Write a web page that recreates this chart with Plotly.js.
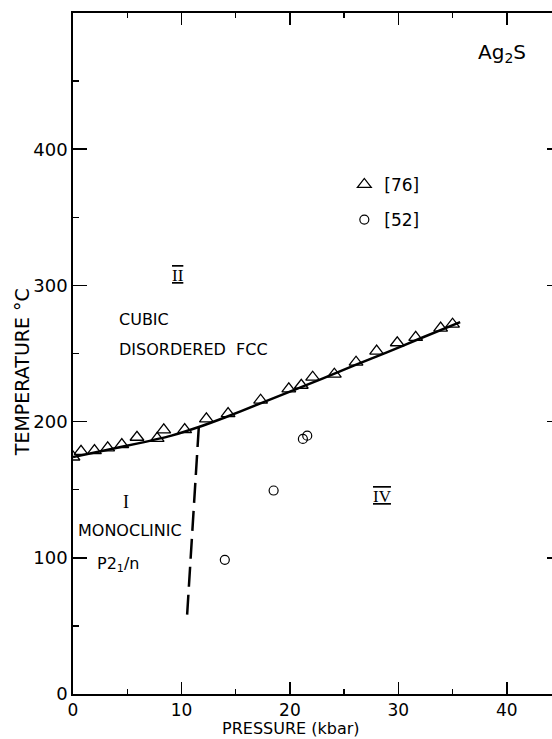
<!DOCTYPE html>
<html>
<head>
<meta charset="utf-8">
<script src="https://cdn.plot.ly/plotly-3.0.1.min.js"></script>
<style>
html, body { margin: 0; padding: 0; overflow: hidden; background: #fff; width: 552px; height: 739px; }
#chart { width: 580px; height: 739px; }
</style>
</head>
<body>
<div id="chart"></div>
<script>
// Ag2S phase diagram: pressure (kbar) vs temperature (°C)
const tri76P = [0, 0.74, 1.98, 3.2, 4.5, 5.9, 7.76, 8.37, 10.3, 12.3, 14.3, 17.3, 19.9, 21.05, 22.1, 24.1, 26.1, 28.0, 29.9, 31.6, 33.9, 35.0];
const tri76T = [174, 178.2, 178.7, 180.7, 183.1, 188.5, 187.7, 193.9, 194.1, 202, 205.9, 215.7, 224, 226.7, 232.6, 234.8, 243.6, 251.7, 257.9, 261.8, 268.6, 271.5];

const circ52P = [14.0, 18.5, 21.2, 21.6];
const circ52T = [98.5, 149.4, 187.3, 189.7];

const boundaryP = [0, 3, 6, 9, 11.6, 14, 17, 20, 23, 26, 29, 32, 35.7];
const boundaryT = [174, 179, 184, 189.5, 196, 203, 212.5, 222, 231.5, 241.5, 251, 261, 273];

const dashP = [11.6, 10.5];
const dashT = [196, 55];

const xTicks = [0, 10, 20, 30, 40];
const yTicks = [0, 100, 200, 300, 400];
const legendNames = ['[76]', '[52]'];

const FONT = 'DejaVu Sans, Liberation Sans, Arial, sans-serif';
const SERIF = 'Liberation Serif, DejaVu Serif, serif';

const traces = [
  { x: boundaryP, y: boundaryT, mode: 'lines', type: 'scatter', showlegend: false,
    line: { color: '#000', width: 2.5, shape: 'spline', smoothing: 0.5 }, hoverinfo: 'skip' },
  { x: dashP, y: dashT, mode: 'lines', type: 'scatter', showlegend: false,
    line: { color: '#000', width: 2.5, dash: '20px,8px' }, hoverinfo: 'skip' },
  { x: tri76P, y: tri76T, mode: 'markers', type: 'scatter', name: legendNames[0], legendgroup: 'a',
    marker: { symbol: 'triangle-up-open', size: 12, color: '#000', line: { width: 1.3, color: '#000' } } },
  { x: circ52P, y: circ52T, mode: 'markers', type: 'scatter', name: legendNames[1], legendgroup: 'b',
    marker: { symbol: 'circle-open', size: 9, color: '#000', line: { width: 1.2, color: '#000' } } }
];

const txt = (x, y, text, extra) => Object.assign({
  x: x, y: y, xref: 'x', yref: 'y', text: text, showarrow: false,
  font: { family: FONT, size: 16, color: '#000' }
}, extra || {});

const roman = (x, y, text) => txt(x, y,
  '<span style="text-decoration:underline overline">' + text + '</span>',
  { font: { family: SERIF, size: 17, color: '#000' } });

const layout = {
  width: 580, height: 739,
  margin: { l: 73, r: 19, t: 13, b: 45 },
  paper_bgcolor: '#fff', plot_bgcolor: '#fff',
  showlegend: true,
  legend: { x: 0.556, y: 0.774, xanchor: 'left', yanchor: 'top', tracegroupgap: 10,
    font: { family: FONT, size: 17, color: '#000' }, bgcolor: 'rgba(0,0,0,0)' },
  xaxis: {
    range: [0, 45], tickvals: xTicks, ticktext: xTicks.map(String),
    ticks: 'inside', ticklen: 12, tickwidth: 1.5, tickcolor: '#000',
    minor: { dtick: 5, ticks: 'inside', ticklen: 5, tickwidth: 1.3, tickcolor: '#000' },
    showline: true, linecolor: '#000', linewidth: 1.8, mirror: 'allticks',
    showgrid: false, zeroline: false,
    tickfont: { family: FONT, size: 17, color: '#000' }
  },
  yaxis: {
    range: [0, 500], tickvals: yTicks, ticktext: yTicks.map(String),
    ticks: 'inside', ticklen: 14, tickwidth: 1.5, tickcolor: '#000',
    minor: { dtick: 50, ticks: 'inside', ticklen: 6, tickwidth: 1.3, tickcolor: '#000' },
    showline: true, linecolor: '#000', linewidth: 1.8, mirror: 'allticks',
    showgrid: false, zeroline: false,
    tickfont: { family: FONT, size: 18, color: '#000' }
  },
  annotations: [
    { xref: 'paper', yref: 'paper', x: 0.446, y: -0.0505, text: 'PRESSURE (kbar)', showarrow: false,
      xanchor: 'center', yanchor: 'middle', font: { family: FONT, size: 16, color: '#000' } },
    { xref: 'paper', yref: 'paper', x: -0.104, y: 0.473, text: 'TEMPERATURE °C', showarrow: false,
      textangle: -90, xanchor: 'center', yanchor: 'middle', font: { family: FONT, size: 19, color: '#000' } },
    txt(37.2, 471, 'Ag<sub>2</sub>S', { xanchor: 'left', font: { family: FONT, size: 20, color: '#000' } }),
    txt(4.05, 275.3, 'CUBIC', { xanchor: 'left' }),
    txt(4.05, 252.6, 'DISORDERED&nbsp;&nbsp;FCC', { xanchor: 'left' }),
    roman(9.66, 307, 'II'),
    roman(28.5, 145, 'IV'),
    txt(4.9, 141.3, 'I', { font: { family: SERIF, size: 18, color: '#000' } }),
    txt(0.25, 120.4, 'MONOCLINIC', { xanchor: 'left' }),
    txt(2.0, 95, 'P2<sub>1</sub>/n', { xanchor: 'left' })
  ]
};

Plotly.newPlot('chart', traces, layout, { staticPlot: true, displayModeBar: false });
</script>
</body>
</html>
